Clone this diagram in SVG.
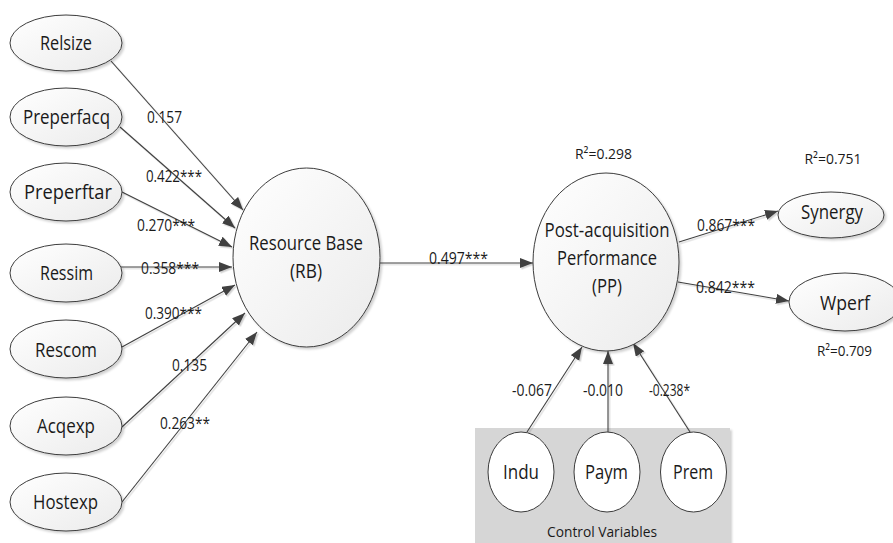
<svg xmlns="http://www.w3.org/2000/svg" width="893" height="543" viewBox="0 0 893 543">
<defs>
<linearGradient id="g" x1="0" y1="0" x2="1" y2="1">
<stop offset="0" stop-color="#ffffff"/>
<stop offset="1" stop-color="#ebebeb"/>
</linearGradient>
<filter id="sh" x="-20%" y="-20%" width="140%" height="140%">
<feDropShadow dx="2" dy="2" stdDeviation="1" flood-color="#000" flood-opacity="0.18"/>
</filter>
<filter id="lsh" x="-5%" y="-5%" width="110%" height="110%">
<feDropShadow dx="1.5" dy="1.5" stdDeviation="0.4" flood-color="#000" flood-opacity="0.18"/>
</filter>
<marker id="ah" markerUnits="userSpaceOnUse" markerWidth="14" markerHeight="11" refX="13" refY="5" orient="auto">
<path d="M0,0 L13,5 L0,10 z" fill="#404040"/>
</marker>
</defs>
<style>
.n{fill:url(#g);stroke:#3c3c3c;stroke-width:1;filter:url(#sh)}
.c{fill:#ffffff;stroke:#3c3c3c;stroke-width:1}
.t{font-family:"Open Sans","Noto Sans",sans-serif;font-size:19.5px;fill:#1a1a1a;text-anchor:middle}
.l{font-family:"Open Sans","Noto Sans",sans-serif;font-size:16px;fill:#1a1a1a}
.r{font-family:"Open Sans","Noto Sans",sans-serif;font-size:15px;fill:#1a1a1a;text-anchor:middle}
.e{stroke:#404040;stroke-width:1.1;fill:none;marker-end:url(#ah)}
</style>
<rect width="893" height="543" fill="#ffffff"/>

<g id="control-box">
<rect x="475" y="428" width="255" height="115" fill="#d6d6d6" filter="url(#sh)"/>
<text class="r" x="602" y="537" textLength="110" lengthAdjust="spacingAndGlyphs">Control Variables</text>
</g>

<g id="connectors" filter="url(#lsh)">
<line class="e" x1="111" y1="61" x2="243" y2="210"/>
<line class="e" x1="120" y1="127" x2="235" y2="228"/>
<line class="e" x1="122" y1="192" x2="232" y2="247"/>
<line class="e" x1="121" y1="267" x2="232" y2="267"/>
<line class="e" x1="122" y1="347" x2="235" y2="285"/>
<line class="e" x1="122" y1="427" x2="245" y2="313"/>
<line class="e" x1="122" y1="502" x2="257" y2="332"/>
<line class="e" x1="380" y1="263" x2="533" y2="263"/>
<line class="e" x1="679" y1="242" x2="778" y2="211"/>
<line class="e" x1="678" y1="282" x2="789" y2="301"/>
<line class="e" x1="527" y1="432" x2="582" y2="347"/>
<line class="e" x1="608" y1="432" x2="608" y2="351"/>
<line class="e" x1="690" y1="432" x2="633" y2="343"/>
</g>

<g id="edge-labels">
<text class="l" x="147" y="123" textLength="35" lengthAdjust="spacingAndGlyphs">0.157</text>
<text class="l" x="146" y="182" textLength="56" lengthAdjust="spacingAndGlyphs">0.422***</text>
<text class="l" x="137" y="231" textLength="58" lengthAdjust="spacingAndGlyphs">0.270***</text>
<text class="l" x="141" y="274" textLength="58" lengthAdjust="spacingAndGlyphs">0.358***</text>
<text class="l" x="145" y="319" textLength="57" lengthAdjust="spacingAndGlyphs">0.390***</text>
<text class="l" x="172" y="371" textLength="35" lengthAdjust="spacingAndGlyphs">0.135</text>
<text class="l" x="160" y="429" textLength="50" lengthAdjust="spacingAndGlyphs">0.263**</text>
<text class="l" x="429" y="264" textLength="59" lengthAdjust="spacingAndGlyphs">0.497***</text>
<text class="l" x="697" y="231" textLength="58" lengthAdjust="spacingAndGlyphs">0.867***</text>
<text class="l" x="696" y="293" textLength="59" lengthAdjust="spacingAndGlyphs">0.842***</text>
<text class="l" x="512" y="396" textLength="40" lengthAdjust="spacingAndGlyphs">-0.067</text>
<text class="l" x="583" y="396" textLength="40" lengthAdjust="spacingAndGlyphs">-0.010</text>
<text class="l" x="649" y="396" textLength="41" lengthAdjust="spacingAndGlyphs">-0.238*</text>
<text class="r" x="603.5" y="159" textLength="57" lengthAdjust="spacingAndGlyphs">R²=0.298</text>
<text class="r" x="833" y="164" textLength="57" lengthAdjust="spacingAndGlyphs">R²=0.751</text>
<text class="r" x="844.5" y="356" textLength="55" lengthAdjust="spacingAndGlyphs">R²=0.709</text>
</g>

<g id="relsize"><ellipse class="n" cx="66" cy="43" rx="56" ry="28"/><text class="t" x="66" y="50" textLength="52" lengthAdjust="spacingAndGlyphs">Relsize</text></g>
<g id="preperfacq"><ellipse class="n" cx="66" cy="117" rx="56" ry="29"/><text class="t" x="66.5" y="124" textLength="87" lengthAdjust="spacingAndGlyphs">Preperfacq</text></g>
<g id="preperftar"><ellipse class="n" cx="66" cy="192" rx="56" ry="29"/><text class="t" x="68" y="199" textLength="88" lengthAdjust="spacingAndGlyphs">Preperftar</text></g>
<g id="ressim"><ellipse class="n" cx="66" cy="273" rx="56" ry="29"/><text class="t" x="66.5" y="280" textLength="53" lengthAdjust="spacingAndGlyphs">Ressim</text></g>
<g id="rescom"><ellipse class="n" cx="66" cy="349" rx="56" ry="29"/><text class="t" x="66" y="357" textLength="62" lengthAdjust="spacingAndGlyphs">Rescom</text></g>
<g id="acqexp"><ellipse class="n" cx="66" cy="426" rx="56" ry="29"/><text class="t" x="66" y="433" textLength="58" lengthAdjust="spacingAndGlyphs">Acqexp</text></g>
<g id="hostexp"><ellipse class="n" cx="66" cy="502" rx="56" ry="29"/><text class="t" x="65.5" y="509" textLength="65" lengthAdjust="spacingAndGlyphs">Hostexp</text></g>

<g id="rb"><ellipse class="n" cx="306.5" cy="257.5" rx="73.5" ry="89.5"/>
<text class="t" x="306" y="250" textLength="114" lengthAdjust="spacingAndGlyphs">Resource Base</text>
<text class="t" x="306" y="278" textLength="32" lengthAdjust="spacingAndGlyphs">(RB)</text></g>

<g id="pp"><ellipse class="n" cx="606" cy="262" rx="73" ry="89"/>
<text class="t" x="607" y="237" textLength="125" lengthAdjust="spacingAndGlyphs">Post-acquisition</text>
<text class="t" x="607" y="265" textLength="100" lengthAdjust="spacingAndGlyphs">Performance</text>
<text class="t" x="607" y="293" textLength="30" lengthAdjust="spacingAndGlyphs">(PP)</text></g>

<g id="synergy"><ellipse class="n" cx="831" cy="215" rx="53" ry="23"/><text class="t" x="832" y="219" textLength="62" lengthAdjust="spacingAndGlyphs">Synergy</text></g>
<g id="wperf"><ellipse class="n" cx="845" cy="302" rx="56" ry="29"/><text class="t" x="845" y="310" textLength="50" lengthAdjust="spacingAndGlyphs">Wperf</text></g>

<g id="indu"><ellipse class="c" cx="521" cy="472" rx="33" ry="40"/><text class="t" x="521" y="479" textLength="36" lengthAdjust="spacingAndGlyphs">Indu</text></g>
<g id="paym"><ellipse class="c" cx="607" cy="472" rx="33" ry="40"/><text class="t" x="606.5" y="479" textLength="43" lengthAdjust="spacingAndGlyphs">Paym</text></g>
<g id="prem"><ellipse class="c" cx="693.5" cy="472" rx="33" ry="40"/><text class="t" x="693" y="479" textLength="40" lengthAdjust="spacingAndGlyphs">Prem</text></g>
</svg>
